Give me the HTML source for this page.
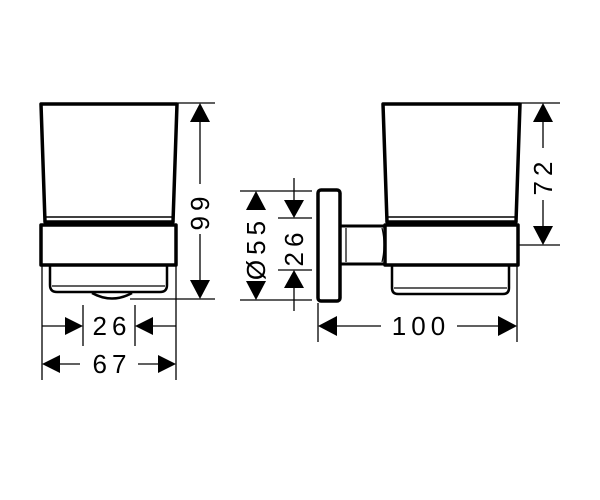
<!DOCTYPE html>
<html><head><style>html,body{margin:0;padding:0;background:#fff}</style></head>
<body>
<svg width="600" height="500" viewBox="0 0 600 500" xmlns="http://www.w3.org/2000/svg" style="display:block">
<g fill="none" stroke="#000" stroke-linejoin="round">
<path d="M41 104 L177 104 L173 222 L45 222 Z" stroke-width="3.5"/>
<line x1="46" y1="217" x2="172" y2="217" stroke-width="1.5"/>
<rect x="41" y="225" width="135" height="40" stroke-width="3.5"/>
<path d="M50 266 L50 285 Q50 292 57 292 L160 292 Q167 292 167 285 L167 266" stroke-width="2.5"/>
<line x1="52" y1="286" x2="165" y2="286" stroke-width="1.2"/>
<path d="M92 293 Q112 304 132 293" stroke-width="2.5"/>
<rect x="318" y="190" width="22" height="111" rx="3" stroke-width="3.5"/>
<path d="M340 226 L386 226 M340 264 L386 264" stroke-width="3"/>
<path d="M346 228 L346 262 M382 228 Q386 245 382 262" stroke-width="1.2"/>
<path d="M383 104 L520 104 L516 222 L387 222 Z" stroke-width="3.5"/>
<line x1="388" y1="217" x2="515" y2="217" stroke-width="1.5"/>
<rect x="385" y="225" width="133" height="40" stroke-width="3.5"/>
<path d="M392 266 L392 288 Q392 294 398 294 L503 294 Q509 294 509 288 L509 266" stroke-width="2.5"/>
<line x1="394" y1="288" x2="507" y2="288" stroke-width="1.2"/>
</g>
<g stroke="#000" stroke-width="1.3" fill="none">
<line x1="178" y1="103" x2="215" y2="103"/><line x1="130" y1="299" x2="215" y2="299"/>
<line x1="200" y1="120" x2="200" y2="184"/><line x1="200" y1="234" x2="200" y2="282"/>
<line x1="83" y1="305" x2="83" y2="346"/><line x1="135" y1="305" x2="135" y2="346"/>
<line x1="42" y1="326" x2="66" y2="326"/><line x1="153" y1="326" x2="176" y2="326"/>
<line x1="42" y1="266" x2="42" y2="380"/><line x1="176" y1="266" x2="176" y2="380"/>
<line x1="60" y1="364" x2="80" y2="364"/><line x1="138" y1="364" x2="158" y2="364"/>
<line x1="521" y1="103" x2="560" y2="103"/><line x1="519" y1="245" x2="560" y2="245"/>
<line x1="543" y1="120" x2="543" y2="148"/><line x1="543" y1="200" x2="543" y2="228"/>
<line x1="240" y1="191" x2="312" y2="191"/><line x1="240" y1="300" x2="312" y2="300"/>
<line x1="278" y1="218" x2="312" y2="218"/><line x1="278" y1="270" x2="312" y2="270"/>
<line x1="294" y1="178" x2="294" y2="200"/><line x1="294" y1="288" x2="294" y2="311"/>
<line x1="318" y1="303" x2="318" y2="342"/><line x1="517" y1="266" x2="517" y2="342"/>
<line x1="336" y1="326" x2="381" y2="326"/><line x1="457" y1="326" x2="499" y2="326"/>
</g>
<g fill="#000">
<polygon points="200,103 190,122 210,122"/><polygon points="200,299 190,280 210,280"/>
<polygon points="83,326 65,317 65,335"/><polygon points="135,326 153,317 153,335"/>
<polygon points="42,364 60,355 60,373"/><polygon points="176,364 158,355 158,373"/>
<polygon points="543,103 533,122 553,122"/><polygon points="543,245 533,226 553,226"/>
<polygon points="256,191 246,210 266,210"/><polygon points="256,300 246,281 266,281"/>
<polygon points="294,218 284,200 304,200"/><polygon points="294,270 284,288 304,288"/>
<polygon points="318,326 337,316 337,336"/><polygon points="517,326 498,316 498,336"/>
</g>
<g font-family="Liberation Sans, sans-serif" font-size="26" fill="#000" text-anchor="middle" letter-spacing="5">
<text x="112" y="335">26</text>
<text x="112" y="373">67</text>
<text x="421" y="335">100</text>
<text transform="translate(209,211) rotate(-90)">99</text>
<text transform="translate(552,176) rotate(-90)">72</text>
<text transform="translate(265,248) rotate(-90)">Ø55</text>
<text transform="translate(303,247) rotate(-90)">26</text>
</g>
</svg>
</body></html>
